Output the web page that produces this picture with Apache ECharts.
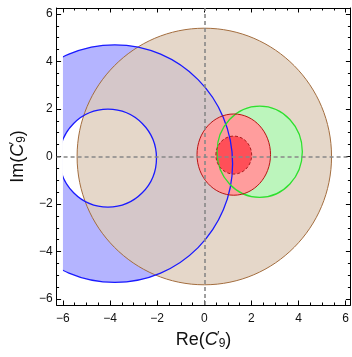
<!DOCTYPE html>
<html>
<head>
<meta charset="utf-8">
<script src="https://cdn.jsdelivr.net/npm/echarts@6/dist/echarts.min.js"></script>
<style>
  html, body { margin: 0; padding: 0; background: #fff; }
  #chart { width: 352px; height: 357px; }
</style>
</head>
<body>
<div id="chart"></div>
<script>
// allowed regions (centre and half-axes in C9' units)
var regionNames = ['brown', 'blueOuter', 'blueHole', 'green', 'redOuter', 'redInner'];
var centerX = [0.0, -3.8, -4.09, 2.35, 1.25, 1.25];
var centerY = [0.0, -0.3, -0.07, 0.2, 0.08, 0.06];
var radiusX = [5.4, 5.0, 2.06, 1.81, 1.56, 0.76];
var radiusY = [5.4, 5.0, 2.06, 1.92, 1.71, 0.80];

// tick labels
var majorTicks = [-6, -4, -2, 0, 2, 4, 6];
var minorTicks = [-6, -5.5, -5, -4.5, -4, -3.5, -3, -2.5, -2, -1.5, -1, -0.5, 0,
                  0.5, 1, 1.5, 2, 2.5, 3, 3.5, 4, 4.5, 5, 5.5, 6];

// plot window and the range the regions were sampled on
var xRange = [-6.27, 6.2];
var yRange = [-6.25, 6.25];
var sampleRange = [-6, 6];

// styles per region
var fillColors = {
    brown: 'rgba(222,204,186,0.78)',
    blueOuter: '#b4b4ff',
    blueHole: '#ffffff',
    green: '#bcf5bc',
    redOuter: '#ff9d9d',
    redInner: '#ff4f58'
};
var strokeColors = {
    brown: '#a36d3e',
    blueOuter: '#1a1aff',
    blueHole: '#1a1aff',
    green: '#2ee02e',
    redOuter: '#b81414',
    redInner: '#a82020'
};
var fillOrder = ['blueOuter', 'blueHole', 'brown', 'green', 'redOuter', 'redInner'];
var strokeOrder = ['brown', 'blueOuter', 'blueHole', 'green', 'redOuter', 'redInner'];

function rows(order) {
    return order.map(function (name) {
        var i = regionNames.indexOf(name);
        return [centerX[i], centerY[i], radiusX[i], radiusY[i], i];
    });
}

function ellipseRenderer(kind) {
    return function (params, api) {
        var name = regionNames[api.value(4)];
        var c = api.coord([api.value(0), api.value(1)]);
        var s = api.size([api.value(2), api.value(3)]);
        var tl = api.coord([sampleRange[0], yRange[1]]);
        var br = api.coord([sampleRange[1], yRange[0]]);
        var style;
        if (kind === 'fill') {
            style = { fill: fillColors[name], stroke: null };
        } else {
            style = {
                fill: null,
                stroke: strokeColors[name],
                lineWidth: name === 'brown' || name.indexOf('red') === 0 ? 1 : 1.3,
                lineDash: name === 'redInner' ? [3, 2] : null
            };
        }
        return {
            type: 'ellipse',
            shape: { cx: c[0], cy: c[1], rx: s[0], ry: s[1] },
            style: style,
            clipPath: {
                type: 'rect',
                shape: { x: tl[0], y: tl[1], width: br[0] - tl[0], height: br[1] - tl[1] }
            }
        };
    };
}

function fmt(v) {
    return String(v).replace('-', '\u2212');
}

var labelFont = 'Liberation Sans';
var nameRich = {
    r: { fontSize: 18, fontFamily: labelFont, color: '#111' },
    c: { fontSize: 18, fontFamily: labelFont, fontStyle: 'italic', color: '#111' },
    p: { fontSize: 13, fontFamily: labelFont, color: '#111', verticalAlign: 'top', width: 1 },
    s: { fontSize: 12, fontFamily: labelFont, color: '#111', verticalAlign: 'bottom', padding: [8, 0, 0, 0] }
};

function makeAxes(dim) {
    var range = dim === 'x' ? xRange : yRange;
    var sides = dim === 'x' ? ['bottom', 'top'] : ['left', 'right'];
    var axes = [];
    sides.forEach(function (side, k) {
        [majorTicks, minorTicks].forEach(function (ticks, j) {
            var main = k === 0 && j === 0;
            axes.push({
                type: 'value',
                position: side,
                min: range[0],
                max: range[1],
                axisLine: { show: j === 0, onZero: false, lineStyle: { color: '#000', width: 1 } },
                axisTick: {
                    show: true,
                    inside: true,
                    length: j === 0 ? 4.5 : 2.5,
                    customValues: ticks,
                    lineStyle: { color: '#000', width: 1 }
                },
                axisLabel: {
                    show: main,
                    customValues: majorTicks,
                    formatter: fmt,
                    fontSize: 12,
                    fontFamily: labelFont,
                    color: '#111',
                    margin: dim === 'x' ? 8 : 4
                },
                splitLine: { show: false },
                name: main ? (dim === 'x' ? '{r|Re(}{c|C}{p|\u2032}{s|9}{r|)}' : '{r|Im(}{c|C}{p|\u2032}{s|9}{r|)}') : '',
                nameLocation: 'middle',
                nameGap: dim === 'x' ? 24 : 26,
                nameTextStyle: { rich: nameRich },
                silent: true
            });
        });
    });
    return axes;
}

var chart = echarts.init(document.getElementById('chart'));
chart.setOption({
    animation: false,
    grid: { left: 55, top: 8, width: 296, height: 297, show: false },
    xAxis: makeAxes('x'),
    yAxis: makeAxes('y'),
    series: [
        {
            type: 'custom',
            renderItem: ellipseRenderer('fill'),
            data: rows(fillOrder),
            xAxisIndex: 0,
            yAxisIndex: 0,
            silent: true
        },
        {
            type: 'custom',
            renderItem: ellipseRenderer('stroke'),
            data: rows(strokeOrder),
            xAxisIndex: 0,
            yAxisIndex: 0,
            silent: true
        },
        {
            type: 'line',
            data: [],
            xAxisIndex: 0,
            yAxisIndex: 0,
            markLine: {
                silent: true,
                symbol: 'none',
                label: { show: false },
                lineStyle: { color: '#888', type: [4, 3], width: 1.6 },
                data: [{ xAxis: 0 }, { yAxis: 0 }]
            }
        }
    ]
});
</script>
</body>
</html>
